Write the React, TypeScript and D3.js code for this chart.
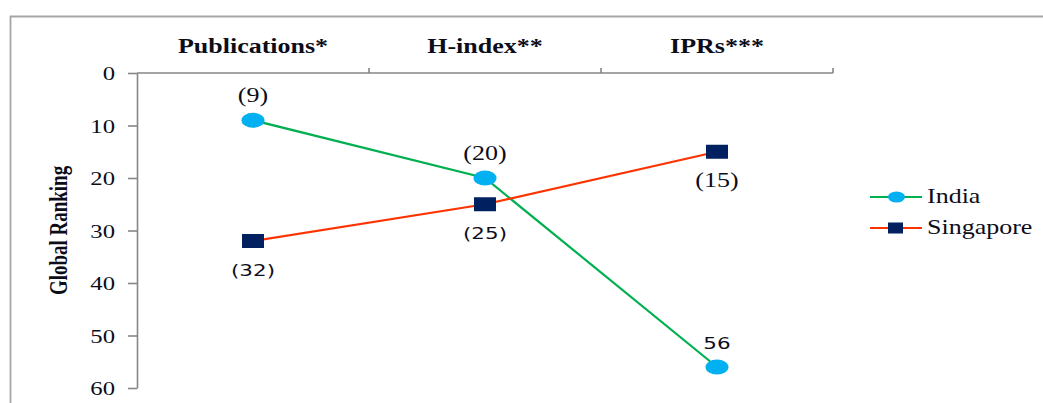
import { useEffect, useRef } from "react";
import * as d3 from "d3";

const categories = ["Publications*", "H-index**", "IPRs***"];
const indiaValues = [9, 20, 56];
const singaporeValues = [32, 25, 15];
const indiaLabels = ["(9)", "(20)", "56"];
const singaporeLabels = ["(32)", "(25)", "(15)"];
const yTicks = [0, 10, 20, 30, 40, 50, 60];

// the source picture is stretched sideways, so text is widened to match
const STRETCH = 1.3;

export default function App() {
  const ref = useRef<SVGSVGElement>(null);

  useEffect(() => {
    if (!ref.current) return;
    const W = 1043;
    const H = 403;
    const margin = { top: 73, left: 137, right: 210, bottom: 15 };
    const svg = d3.select(ref.current);
    svg.selectAll("*").remove();

    const serif = "'Liberation Serif', 'Times New Roman', serif";
    const sans = "'DejaVu Sans', Verdana, sans-serif";
    const ink = "#0d0d1a";

    const label = (
      px: number, py: number, txt: string,
      opts: { anchor?: string; size?: number; weight?: string; font?: string } = {}
    ) =>
      svg.append("text")
        .attr("transform", `translate(${px},${py}) scale(${STRETCH},1)`)
        .attr("text-anchor", opts.anchor ?? "middle")
        .attr("font-family", opts.font ?? serif)
        .attr("font-size", opts.size ?? 20)
        .attr("font-weight", opts.weight ?? "normal")
        .attr("fill", ink)
        .text(txt);

    // outer chart border
    svg.append("path")
      .attr("d", `M10.5,${H} L10.5,16.5 L${W},16.5`)
      .attr("fill", "none")
      .attr("stroke", "#a6a6a6")
      .attr("stroke-width", 1.8);

    const x = d3.scaleBand()
      .domain(categories)
      .range([margin.left, W - margin.right]);

    const y = d3.scaleLinear()
      .domain([0, 60])
      .range([margin.top, H - margin.bottom]);

    // top category axis
    const xAxis = svg.append("g")
      .attr("transform", `translate(0,${margin.top})`)
      .call(d3.axisTop(x).tickSize(0).tickFormat(() => ""));
    xAxis.select(".domain").attr("stroke", "#868686").attr("stroke-width", 1.6)
      .attr("d", `M${margin.left},0H${W - margin.right}`);
    const edges = categories.map(c => (x(c) ?? 0) + x.bandwidth());
    svg.append("g").selectAll("line")
      .data(edges)
      .enter().append("line")
      .attr("x1", d => d).attr("x2", d => d)
      .attr("y1", margin.top).attr("y2", margin.top - 5)
      .attr("stroke", "#868686").attr("stroke-width", 1.6);
    categories.forEach(c => {
      label((x(c) ?? 0) + x.bandwidth() / 2, margin.top - 20, c, { weight: "bold" });
    });

    // left value axis
    const yAxis = svg.append("g")
      .attr("transform", `translate(${margin.left},0)`)
      .call(d3.axisLeft(y).tickValues(yTicks).tickSize(9).tickSizeOuter(0).tickFormat(() => ""));
    yAxis.select(".domain").attr("stroke", "#868686").attr("stroke-width", 1.6);
    yAxis.selectAll("line").attr("stroke", "#868686").attr("stroke-width", 1.6);
    yTicks.forEach(t => {
      label(margin.left - 22, y(t) + 7, String(t), { anchor: "end", size: 19 });
    });

    // y-axis title
    svg.append("text")
      .attr("transform", `translate(67,${(y(0) + y(60)) / 2}) scale(${STRETCH},1) rotate(-90)`)
      .attr("text-anchor", "middle")
      .attr("font-family", serif)
      .attr("font-weight", "bold")
      .attr("font-size", 19)
      .attr("fill", ink)
      .text("Global Ranking");

    const cx = (i: number) => (x(categories[i]) ?? 0) + x.bandwidth() / 2;

    const line = d3.line<number>()
      .x((_, i) => cx(i))
      .y(d => y(d));

    const series = [
      { name: "India", values: indiaValues, color: "#00b050", marker: "circle" },
      { name: "Singapore", values: singaporeValues, color: "#ff3300", marker: "square" },
    ];

    series.forEach(s => {
      svg.append("path")
        .datum(s.values)
        .attr("fill", "none")
        .attr("stroke", s.color)
        .attr("stroke-width", 2.2)
        .attr("d", line);
    });

    // markers
    svg.append("g").selectAll("ellipse")
      .data(indiaValues)
      .enter().append("ellipse")
      .attr("cx", (_, i) => cx(i))
      .attr("cy", d => y(d))
      .attr("rx", 11.5)
      .attr("ry", 7.5)
      .attr("fill", "#00b0f0");

    svg.append("g").selectAll("rect")
      .data(singaporeValues)
      .enter().append("rect")
      .attr("x", (_, i) => cx(i) - 11)
      .attr("y", d => y(d) - 7)
      .attr("width", 22)
      .attr("height", 14)
      .attr("fill", "#002060");

    // data labels
    const indiaFonts = [serif, serif, sans];
    indiaValues.forEach((v, i) => {
      label(cx(i), y(v) - 18, indiaLabels[i], {
        font: indiaFonts[i], size: indiaFonts[i] === sans ? 16.5 : 20,
      });
    });
    const sgFonts = [sans, sans, serif];
    singaporeValues.forEach((v, i) => {
      label(cx(i), y(v) + 35, singaporeLabels[i], {
        font: sgFonts[i], size: sgFonts[i] === sans ? 16.5 : 20,
      });
    });

    // legend
    series.forEach((s, i) => {
      const ly = 197 + i * 31;
      svg.append("line")
        .attr("x1", 870).attr("x2", 922)
        .attr("y1", ly).attr("y2", ly)
        .attr("stroke", s.color).attr("stroke-width", 2.2);
      if (s.marker === "circle") {
        svg.append("ellipse").attr("cx", 896.5).attr("cy", ly)
          .attr("rx", 8.5).attr("ry", 5.5).attr("fill", "#00b0f0");
      } else {
        svg.append("rect").attr("x", 888).attr("y", ly - 5.5)
          .attr("width", 15).attr("height", 11).attr("fill", "#002060");
      }
      label(927, ly + 6, s.name, { anchor: "start", size: 20 });
    });
  }, []);

  return (
    <svg
      ref={ref}
      width={1043}
      height={403}
      style={{ position: "absolute", left: 0, top: 0, background: "#fff" }}
    />
  );
}
